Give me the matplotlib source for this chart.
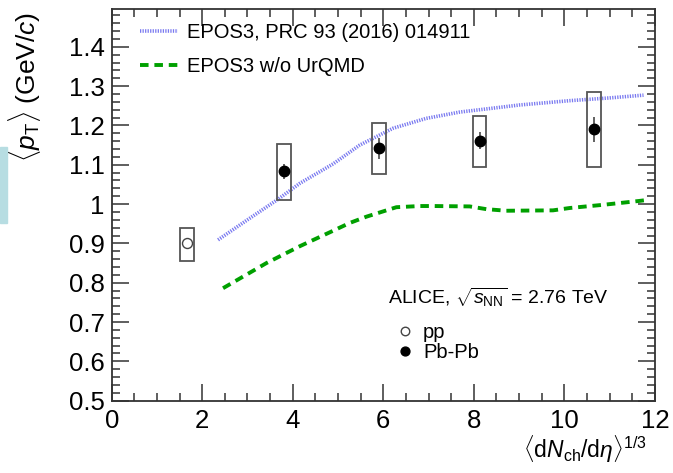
import matplotlib
matplotlib.use("Agg")
import matplotlib.pyplot as plt
from matplotlib.patches import Rectangle
from matplotlib.ticker import MultipleLocator

plt.rcParams['font.family'] = ['Liberation Sans', 'DejaVu Sans']
plt.rcParams['mathtext.fontset'] = 'custom'
plt.rcParams['mathtext.rm'] = 'Liberation Sans'
plt.rcParams['mathtext.it'] = 'Liberation Sans:italic'
plt.rcParams['mathtext.bf'] = 'Liberation Sans:bold'

# ---- data ----
pp_x = [1.67]
pp_y = [0.900]
pp_sys_lo = [0.855]
pp_sys_hi = [0.939]
pp_box_w = [0.31]

pb_x = [3.81, 5.90, 8.13, 10.65]
pb_y = [1.083, 1.142, 1.161, 1.190]
pb_stat = [0.020, 0.027, 0.022, 0.031]
pb_sys_lo = [1.011, 1.077, 1.094, 1.094]
pb_sys_hi = [1.152, 1.206, 1.225, 1.285]
pb_box_w = [0.31, 0.31, 0.30, 0.31]

epos_x = [2.35, 3.0, 3.66, 4.16, 4.89, 5.48, 6.22, 6.95, 7.69, 8.50, 9.01, 10.12, 11.0, 11.75]
epos_y = [0.909, 0.960, 1.011, 1.053, 1.102, 1.150, 1.193, 1.218, 1.234, 1.245, 1.252, 1.263, 1.270, 1.277]

nourqmd_x = [2.46, 3.42, 4.16, 4.89, 5.26, 5.63, 6.29, 6.81, 7.10, 7.91, 8.28, 8.72, 9.75, 10.12, 10.85, 11.66, 11.8]
nourqmd_y = [0.786, 0.850, 0.893, 0.932, 0.952, 0.968, 0.992, 0.995, 0.995, 0.994, 0.987, 0.983, 0.984, 0.990, 0.998, 1.008, 1.010]

fig = plt.figure(figsize=(6.73, 4.73), dpi=100)
ax = fig.add_axes([0.166, 0.153, 0.807, 0.827])

# light-blue strip at the left edge
fig.patches.append(Rectangle((0, 1 - 223 / 473), 7 / 673, 76 / 473,
                             transform=fig.transFigure, color='#b7dde2', zorder=0))

box_col = '#555555'
for x, lo, hi, w in zip(pp_x, pp_sys_lo, pp_sys_hi, pp_box_w):
    ax.add_patch(Rectangle((x - w / 2, lo), w, hi - lo, fill=False,
                           edgecolor=box_col, lw=1.3, zorder=3))
for x, lo, hi, w in zip(pb_x, pb_sys_lo, pb_sys_hi, pb_box_w):
    ax.add_patch(Rectangle((x - w / 2, lo), w, hi - lo, fill=False,
                           edgecolor=box_col, lw=1.3, zorder=3))

l_epos, = ax.plot(epos_x, epos_y, color='#7a7af0', lw=2.6,
                  linestyle=(0, (0.35, 0.35)), zorder=2,
                  label='EPOS3, PRC 93 (2016) 014911')
l_noq, = ax.plot(nourqmd_x, nourqmd_y, color='#00a000', lw=2.8,
                 linestyle=(0, (2.2, 1.5)), zorder=2,
                 label='EPOS3 w/o UrQMD')

ax.errorbar(pb_x, pb_y, yerr=pb_stat, fmt='none', ecolor='#555555',
            elinewidth=1.3, capsize=0, zorder=4)
h_pb, = ax.plot(pb_x, pb_y, 'o', color='black', ms=7.5, zorder=5, label='Pb-Pb')
h_pp, = ax.plot(pp_x, pp_y, 'o', mfc='white', mec='#444444', mew=1.0, ms=7.2,
                zorder=5, label='pp')

ax.set_xlim(0, 12)
ax.set_ylim(0.5, 1.495)
ax.xaxis.set_minor_locator(MultipleLocator(0.5))
ax.yaxis.set_minor_locator(MultipleLocator(0.02))
ax.set_xticks([0, 2, 4, 6, 8, 10, 12])
ax.set_xticklabels(['0', '2', '4', '6', '8', '10', '12'])
ax.set_yticks([0.5, 0.6, 0.7, 0.8, 0.9, 1.0, 1.1, 1.2, 1.3, 1.4])
ax.set_yticklabels(['0.5', '0.6', '0.7', '0.8', '0.9', '1', '1.1', '1.2', '1.3', '1.4'])
ax.tick_params(which='both', direction='in', top=True, right=True,
               color='#333333', width=1.1, labelsize=18.5)
ax.tick_params(which='major', length=12)
ax.tick_params(which='minor', length=6)
ax.tick_params(axis='y', pad=5)
ax.tick_params(axis='x', pad=6)
for s in ax.spines.values():
    s.set_color('#333333')
    s.set_linewidth(1.3)

ax.set_ylabel(r'$\langle p_{\rm T}\rangle$ (GeV/$c$)', fontsize=19)
ax.yaxis.set_label_coords(-0.126, 0.995)
ax.yaxis.label.set_ha('right')
ax.set_xlabel(r'$\langle {\rm d}N_{\rm ch}/{\rm d}\eta\rangle^{1/3}$', fontsize=16.5)
ax.xaxis.set_label_coords(0.985, -0.085)
ax.xaxis.label.set_ha('right')

leg1 = ax.legend(handles=[l_epos, l_noq], loc='upper left',
                 bbox_to_anchor=(0.037, 0.985), frameon=False, fontsize=14.5,
                 handlelength=1.9, handletextpad=0.45, labelspacing=0.75,
                 borderaxespad=0)
ax.add_artist(leg1)

ax.text(0.508, 0.265, r'ALICE, $\sqrt{s_{\rm NN}}$ = 2.76 TeV', transform=ax.transAxes,
        fontsize=14, ha='left', va='center')
leg2 = ax.legend(handles=[h_pp, h_pb], loc='upper left',
                 bbox_to_anchor=(0.51, 0.218), frameon=False, fontsize=14.5,
                 handlelength=0.8, handletextpad=0.5, labelspacing=0.05,
                 borderaxespad=0, markerscale=0.85)

fig.savefig('out.png', dpi=100)
